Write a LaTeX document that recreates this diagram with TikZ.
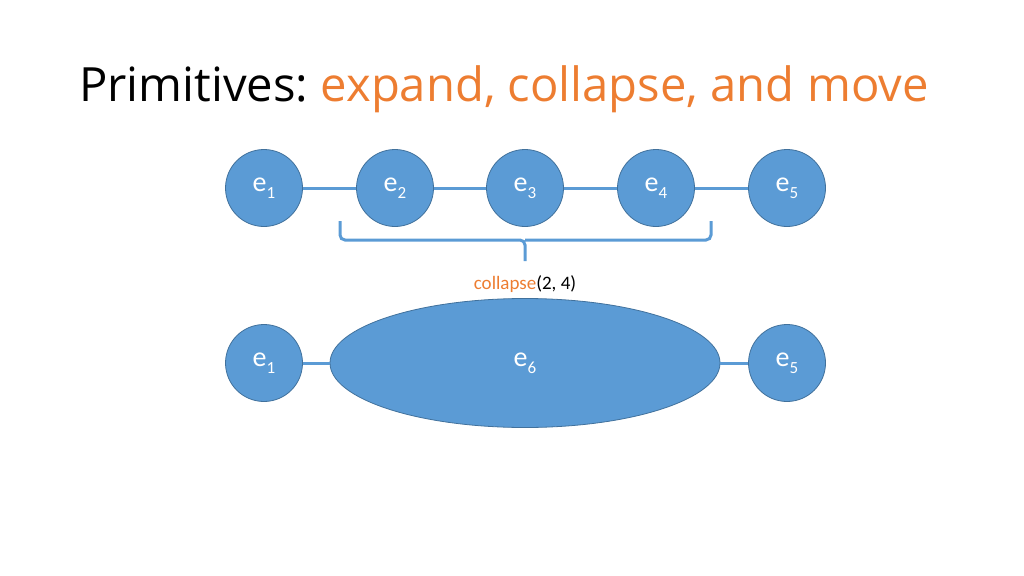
\documentclass[tikz,border=0pt]{standalone}
\usepackage{fontspec}
\setmainfont{Carlito}
\newfontfamily\titlefont{Open Sans}
\usetikzlibrary{positioning,shapes.geometric}
\definecolor{nodeblue}{HTML}{5B9BD5}
\definecolor{edgeblue}{HTML}{41719C}
\definecolor{accent}{HTML}{ED7D31}
\newcommand{\elbl}[1]{e\raisebox{-7pt}{\fontsize{17}{18}\selectfont#1}}
\frenchspacing
\begin{document}
\begin{tikzpicture}[x=1pt,y=-1pt,
                    main node/.style={circle,draw=edgeblue,fill=nodeblue,line width=0.8pt,
                      minimum size=77pt,inner sep=0pt,text=white,font=\fontsize{28}{30}\selectfont},
                    big node/.style={ellipse,draw=edgeblue,fill=nodeblue,line width=0.8pt,
                      minimum width=390pt,minimum height=129pt,inner sep=0pt,text=white,
                      font=\fontsize{28}{30}\selectfont},
                    link/.style={draw=nodeblue,line width=3pt}]
  \useasboundingbox (0,0) rectangle (1024,575);
  \node[anchor=base west,inner sep=0pt,font=\titlefont\fontsize{47.2}{54}\selectfont] (title) at (79,102)
    {Primitives: \textcolor{accent}{expand, collapse, and move}};

  % before
  \node[main node] (1) at (264,188) {\elbl{1}};
  \node[main node] (2) at (395,188) {\elbl{2}};
  \node[main node] (3) at (525,188) {\elbl{3}};
  \node[main node] (4) at (656,188) {\elbl{4}};
  \node[main node] (5) at (787,188) {\elbl{5}};

  \path[link] (1) -- (2) (2) -- (3) (3) -- (4) (4) -- (5);

  % brace
  \coordinate (bl) at (340,221);
  \coordinate (br) at (711,221);
  \coordinate (bt) at (525,261);
  \draw[link,rounded corners=5pt] (bl) -- (340,240) -- (525,240) -- (bt)
    (525,240) -- (711,240) -- (br);

  \node[font=\fontsize{19}{22}\selectfont] (op) at (525,284)
    {\textcolor{accent}{collapse}(2, 4)};

  % after
  \node[main node] (a1) at (264,363) {\elbl{1}};
  \node[big node]  (a6) at (525,363) {\elbl{6}};
  \node[main node] (a5) at (787,363) {\elbl{5}};

  \path[link] (a1) -- (a6) (a6) -- (a5);
\end{tikzpicture}
\end{document}
